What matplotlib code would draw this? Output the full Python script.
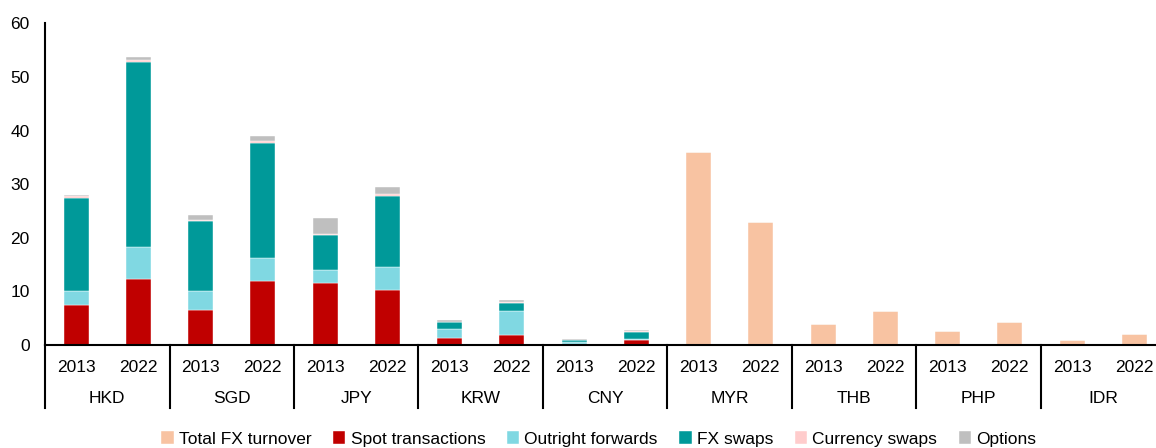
import matplotlib.pyplot as plt
import matplotlib.transforms as mtransforms
import numpy as np

plt.rcParams['font.family'] = ['Liberation Sans', 'DejaVu Sans']

currencies = ["HKD", "SGD", "JPY", "KRW", "CNY", "MYR", "THB", "PHP", "IDR"]
years = ["2013", "2022"]

# one value per bar: HKD 2013, HKD 2022, SGD 2013, ...
total_fx = [0, 0, 0, 0, 0, 0, 0, 0, 0, 0, 36.0, 22.9, 4.0, 6.3, 2.6, 4.3, 0.9, 2.0]
spot = [7.5, 12.4, 6.5, 12.0, 11.6, 10.3, 1.3, 1.9, 0.2, 0.9, 0, 0, 0, 0, 0, 0, 0, 0]
outright = [2.6, 5.9, 3.6, 4.2, 2.4, 4.3, 1.7, 4.4, 0.4, 0.3, 0, 0, 0, 0, 0, 0, 0, 0]
fx_swaps = [17.3, 34.4, 13.0, 21.4, 6.5, 13.2, 1.2, 1.6, 0.3, 1.3, 0, 0, 0, 0, 0, 0, 0, 0]
ccy_swaps = [0.3, 0.4, 0.2, 0.5, 0.2, 0.4, 0.1, 0.1, 0.05, 0.05, 0, 0, 0, 0, 0, 0, 0, 0]
options = [0.3, 0.7, 1.0, 0.9, 2.9, 1.3, 0.3, 0.4, 0.2, 0.3, 0, 0, 0, 0, 0, 0, 0, 0]

series = [
    ("Total FX turnover", total_fx, "#F8C3A2"),
    ("Spot transactions", spot, "#C00000"),
    ("Outright forwards", outright, "#80D8E2"),
    ("FX swaps", fx_swaps, "#009999"),
    ("Currency swaps", ccy_swaps, "#FFCCCC"),
    ("Options", options, "#BFBFBF"),
]

fig = plt.figure(figsize=(11.56, 4.48), dpi=100)
ax = fig.add_axes([45 / 1156, 1 - 345 / 448, 1 - 45 / 1156, (345 - 23.3) / 448])

x = np.arange(len(spot))
bottom = np.zeros(len(spot))
for name, vals, col in series:
    vals = np.array(vals)
    ax.bar(x, vals, 0.4, bottom=bottom, color=col, edgecolor="white",
           linewidth=0.3, label=name)
    bottom += vals

ax.set_ylim(0, 60)
ax.set_xlim(-0.5, -0.5 + 1111 / 62.25)
ax.set_yticks(range(0, 61, 10))
ax.tick_params(axis="y", length=0, labelsize=12.5, pad=11)
ax.set_xticks([])
for s in ["top", "right"]:
    ax.spines[s].set_visible(False)
ax.spines["left"].set_linewidth(1.5)
ax.spines["bottom"].set_linewidth(1.5)

# two-level category axis
trans = mtransforms.blended_transform_factory(ax.transData, ax.transAxes)
for i in range(len(spot)):
    ax.text(x[i], -0.071, years[i % 2], transform=trans, ha="center", va="center",
            fontsize=12.5)
for g, cur in enumerate(currencies):
    ax.text(2 * g + 0.5, -0.165, cur, transform=trans, ha="center", va="center",
            fontsize=12.5)
for g in range(len(currencies) + 1):
    ax.plot([2 * g - 0.5, 2 * g - 0.5], [0, -0.196], transform=trans, color="black",
            linewidth=1.5, clip_on=False)

fig.legend(loc="center", bbox_to_anchor=(0.518, 0.02), ncol=6, frameon=False,
           fontsize=12.5, handlelength=0.7, handleheight=0.7, handletextpad=0.3,
           columnspacing=1.25, borderaxespad=0)

fig.savefig("out.png", dpi=100)
